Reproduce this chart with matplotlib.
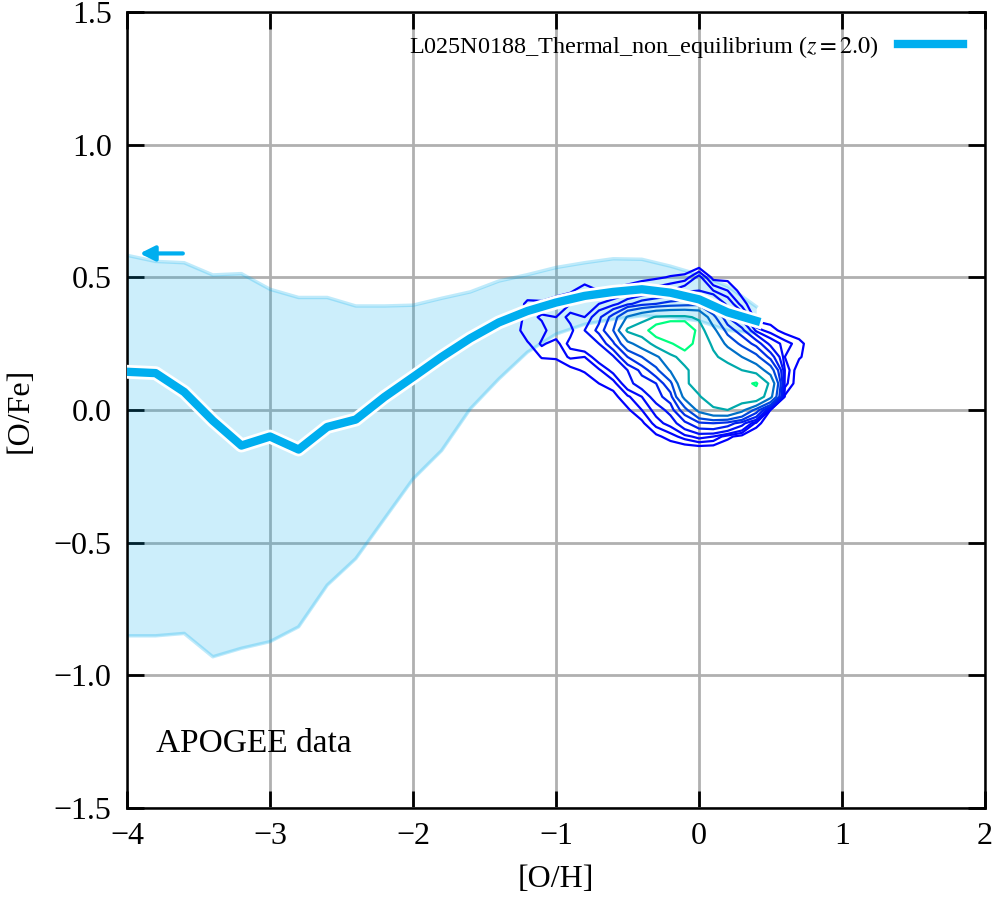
import numpy as np
import matplotlib
matplotlib.use("Agg")
import matplotlib.pyplot as plt
import matplotlib.patheffects as pe

plt.rcParams["font.family"] = "serif"
plt.rcParams["font.serif"] = ["Liberation Serif", "DejaVu Serif"]
plt.rcParams["mathtext.fontset"] = "stix"

# simulation: median [O/Fe] and percentile band in bins of [O/H]
oh_bins = [-4.0, -3.8, -3.6, -3.4, -3.2, -3.0, -2.8, -2.6, -2.4, -2.2, -2.0, -1.8,
           -1.6, -1.4, -1.2, -1.0, -0.8, -0.6, -0.4, -0.2, 0.0, 0.2, 0.4]
ofe_median = [0.144, 0.139, 0.068, -0.04, -0.134, -0.10, -0.149, -0.064, -0.036, 0.049,
              0.124, 0.20, 0.27, 0.33, 0.373, 0.405, 0.43, 0.445, 0.455, 0.442, 0.417,
              0.368, 0.336]
ofe_upper = [0.583, 0.56, 0.555, 0.509, 0.514, 0.455, 0.424, 0.424, 0.392, 0.392, 0.395,
             0.421, 0.445, 0.486, 0.51, 0.537, 0.555, 0.57, 0.568, 0.542, 0.51, 0.467, 0.39]
ofe_lower = [-0.851, -0.851, -0.842, -0.93, -0.898, -0.873, -0.817, -0.66, -0.56, -0.41,
             -0.26, -0.153, 0.004, 0.117, 0.218, 0.286, 0.323, 0.342, 0.355, 0.35, 0.336,
             0.30, 0.29]
sim_label = r"L025N0188_Thermal_non_equilibrium ($z = 2.0$)"

# APOGEE star counts, one list per [O/H] bin, running over the [O/Fe] bins
apogee_oh = [-1.3, -1.2, -1.1, -1.0, -0.9, -0.8, -0.7, -0.6, -0.5, -0.4, -0.3,
             -0.2, -0.1, 0.0, 0.1, 0.2, 0.3, 0.4, 0.5, 0.6, 0.7, 0.8]
apogee_ofe = [-0.2, -0.15, -0.1, -0.05, 0.0, 0.05, 0.1, 0.15, 0.2, 0.25, 0.3, 0.35,
              0.4, 0.45, 0.5, 0.55, 0.6]
apogee_counts = [
    [0, 0, 0, 0, 0, 0, 0, 0, 0, 0, 0, 0, 0, 0, 0, 0, 0],
    [0, 0, 0, 0, 0, 0, 0, 0, 0, 0.8, 2, 1.5, 1.3, 0.2, 0, 0, 0],
    [0, 0, 0, 0, 0, 0, 0, 0, 1.1, 2.2, 1.5, 2.2, 1.2, 0.3, 0, 0, 0],
    [0, 0, 0, 0, 0, 0, 0, 0, 1.2, 1.5, 3, 2, 1.5, 0.6, 0, 0, 0],
    [0, 0, 0, 0, 0, 0, 0, 0.6, 2.2, 3.5, 2.5, 3.5, 2, 0.8, 0, 0, 0],
    [0, 0, 0, 0, 0, 0, 0, 1.2, 2, 4.5, 5, 3, 2.5, 1.6, 0.3, 0, 0],
    [0, 0, 0, 0, 0, 0, 1, 1.8, 4, 5, 9, 7, 3, 1, 0.2, 0, 0],
    [0, 0, 0, 0, 0, 0.6, 1.5, 3.5, 4.5, 11, 18, 14, 4, 1.2, 0.3, 0, 0],
    [0, 0, 0, 0, 0.8, 1.8, 4, 5, 12, 24, 42, 28, 7, 1.5, 0.4, 0, 0],
    [0, 0, 0, 0.7, 2, 3, 6.5, 9, 18, 32, 48, 35, 10, 2, 0.6, 0, 0],
    [0, 0, 0.7, 2.5, 3.5, 6.5, 8, 16, 25, 45, 75, 41, 12, 2.5, 0.8, 0, 0],
    [0, 0, 1.5, 3.5, 6, 10, 16, 28, 36, 57, 100, 42, 14, 3, 1.1, 0, 0],
    [0, 0, 2.5, 7, 15, 30, 38, 37, 46, 75, 100, 42, 15, 4, 1.3, 0, 0],
    [0, 0, 3.5, 11, 30, 39, 45, 48, 50, 48, 46, 38, 16, 5, 3.5, 0, 0],
    [0, 0, 3, 12, 38, 47, 48, 46, 42, 38, 30, 20, 10, 3, 0.5, 0, 0],
    [0, 0, 1.3, 10, 40, 48, 50, 45, 36, 24, 15, 8, 4, 2, 0.6, 0, 0],
    [0, 0, 0.5, 6, 30, 50, 55, 40, 27, 16, 9, 4, 1.5, 0.5, 0, 0, 0],
    [0, 0, 0, 1.5, 15, 52, 62, 33, 20, 10, 2.5, 0.3, 0, 0, 0, 0, 0],
    [0, 0, 0, 0, 0.9, 30, 36, 22, 10, 4, 1.5, 0.3, 0, 0, 0, 0, 0],
    [0, 0, 0, 0, 0, 0.8, 2.5, 3, 2, 2.5, 0.5, 0, 0, 0, 0, 0, 0],
    [0, 0, 0, 0, 0, 0, 0, 0, 1.2, 1.5, 0, 0, 0, 0, 0, 0, 0],
    [0, 0, 0, 0, 0, 0, 0, 0, 0, 0, 0, 0, 0, 0, 0, 0, 0],
]
contour_levels = [1, 2, 3, 5, 8, 12, 18, 27, 40, 60]

x_ticks = [-4, -3, -2, -1, 0, 1, 2]
y_ticks = [-1.5, -1.0, -0.5, 0.0, 0.5, 1.0, 1.5]
arrow_start = (-3.59, 0.59)
arrow_end = (-3.93, 0.59)
line_color = "#00aeef"

fig = plt.figure(figsize=(9.96, 9.0), dpi=100)
ax = fig.add_axes([0.1275, 0.1022, 0.8615, 0.8845])

ax.fill_between(oh_bins, ofe_lower, ofe_upper, color=line_color, alpha=0.2, lw=0, zorder=2)
ax.plot(oh_bins, ofe_upper, color=line_color, alpha=0.25, lw=2.5, zorder=2)
ax.plot(oh_bins, ofe_lower, color=line_color, alpha=0.25, lw=2.5, zorder=2)

counts = np.array(apogee_counts).T
ax.contour(apogee_oh, apogee_ofe, counts, levels=contour_levels, cmap="winter",
           linewidths=1.6, zorder=3)

ax.plot(oh_bins, ofe_median, color=line_color, lw=6, zorder=4, label=sim_label,
        solid_capstyle="projecting",
        path_effects=[pe.Stroke(linewidth=10, foreground="white"), pe.Normal()])

ax.annotate("", xy=arrow_end, xytext=arrow_start,
            arrowprops=dict(arrowstyle="-|>", color=line_color, lw=3, mutation_scale=22),
            zorder=5)
ax.text(-3.8, -1.256, "APOGEE data", fontsize=24, va="center", ha="left")

ax.set_xlim(-4, 2)
ax.set_ylim(-1.5, 1.5)
ax.set_xticks(x_ticks)
ax.set_yticks(y_ticks)
ax.set_xticklabels([f"{t:g}".replace("-", "\u2212") for t in x_ticks])
ax.set_yticklabels([f"{t:.1f}".replace("-", "\u2212") for t in y_ticks])
ax.tick_params(direction="in", length=12, width=2, labelsize=23, top=True, right=True)
ax.tick_params(axis="x", pad=10)
ax.tick_params(axis="y", pad=11)
ax.grid(True, color="#b0b0b0", lw=2, zorder=1)
ax.set_axisbelow(True)
for s in ax.spines.values():
    s.set_linewidth(1.8)
ax.set_xlabel("[O/H]", fontsize=23, labelpad=10)
ax.set_ylabel("[O/Fe]", fontsize=23, labelpad=14)

leg = ax.legend(loc="upper right", frameon=False, markerfirst=False, fontsize=17.4,
                handlelength=2.7, borderaxespad=0.5)
for h in leg.legend_handles:
    h.set_path_effects([])

fig.savefig("out.png", dpi=100)
